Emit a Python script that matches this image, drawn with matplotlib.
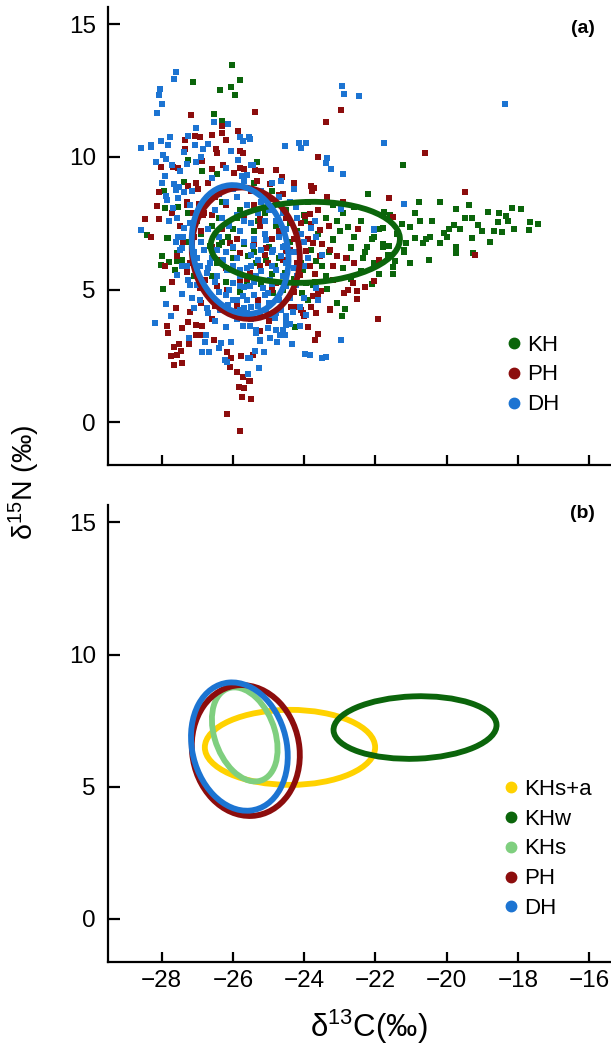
import numpy as np
import matplotlib
matplotlib.use("Agg")
import matplotlib.pyplot as plt
from matplotlib.patches import Ellipse
from matplotlib.lines import Line2D

plt.rcParams['font.family'] = ['Liberation Sans', 'DejaVu Sans']
plt.rcParams['mathtext.default'] = 'regular'

# ---- scatter data (d13C, d15N) ----
kh_pts = [
    (-26.04, 13.46), (-25.81, 12.88), (-26.05, 12.63), (-25.94, 12.35), (-26.36, 12.51), (-27.13, 12.83),
    (-26.53, 11.62), (-26.31, 11.34), (-26.71, 10.49), (-27.27, 9.89), (-26.87, 9.48), (-27.38, 9.06),
    (-26.45, 9.36), (-27.94, 8.70), (-27.53, 8.10), (-27.91, 8.07), (-28.41, 7.06), (-27.84, 6.93),
    (-27.25, 7.88), (-27.98, 6.25), (-27.97, 5.03), (-28.02, 5.94), (-27.63, 5.75), (-27.58, 6.06),
    (-25.32, 9.80), (-23.07, 7.57), (-22.77, 7.35), (-23.98, 7.57), (-23.20, 6.90), (-22.03, 6.97),
    (-22.68, 6.59), (-22.24, 6.59), (-23.08, 4.49), (-22.86, 4.28), (-22.93, 4.02), (-24.27, 3.58),
    (-24.06, 4.89), (-23.36, 5.02), (-23.75, 5.18), (-22.68, 6.56), (-22.35, 6.19),
    (-21.23, 9.71), (-20.79, 8.30), (-19.73, 8.04), (-19.38, 8.19), (-18.84, 7.91), (-18.53, 7.87),
    (-18.16, 8.07), (-17.91, 8.04), (-17.44, 7.48), (-17.67, 7.56), (-17.70, 7.26), (-18.10, 7.30),
    (-18.29, 7.57), (-18.33, 7.79), (-18.55, 7.56), (-18.66, 7.19), (-18.45, 7.16), (-18.79, 6.79),
    (-19.28, 7.70), (-19.13, 7.45), (-19.29, 6.93), (-19.26, 6.38), (-19.74, 6.60), (-19.73, 6.38),
    (-19.63, 7.28), (-19.81, 7.43), (-19.95, 7.28), (-20.09, 7.13), (-19.99, 7.00), (-20.20, 6.75),
    (-20.42, 7.60), (-20.74, 7.58), (-20.47, 7.00), (-20.57, 6.90), (-20.67, 6.75), (-20.88, 6.95),
    (-21.02, 6.00), (-20.51, 6.13), (-21.25, 7.46), (-21.04, 7.35), (-21.14, 6.75), (-21.21, 6.40),
    (-21.46, 6.06), (-21.51, 5.84), (-21.50, 5.60), (-21.63, 6.63), (-21.79, 6.73), (-21.80, 7.32),
    (-21.65, 6.31), (-22.03, 6.00), (-21.77, 7.92),
    (-28.42, 7.04), (-27.83, 6.94), (-27.79, 6.04), (-27.56, 6.38), (-27.44, 6.12), (-26.39, 6.69),
    (-26.13, 7.00), (-25.99, 6.56), (-25.57, 6.25), (-25.34, 6.00), (-25.06, 6.12), (-24.83, 5.87),
    (-24.55, 5.62), (-24.03, 5.75), (-23.94, 5.24), (-23.66, 6.06), (-23.19, 6.88), (-25.62, 5.25),
    (-24.87, 4.87), (-26.46, 6.00), (-26.65, 6.63),
    (-26.30, 8.30), (-25.80, 8.00), (-25.10, 7.90), (-24.50, 8.00), (-24.00, 7.80), (-23.40, 7.70),
    (-22.90, 7.90), (-22.40, 7.60), (-26.60, 7.40), (-26.00, 7.30), (-25.40, 7.20), (-24.80, 7.40),
    (-24.20, 7.20), (-23.60, 7.10), (-23.00, 7.20), (-22.60, 7.00), (-21.90, 7.30), (-26.30, 6.80),
    (-25.70, 6.70), (-25.00, 6.60), (-24.40, 6.80), (-23.80, 6.50), (-23.30, 6.40), (-22.80, 6.20),
    (-22.30, 6.40), (-21.80, 6.60), (-26.00, 6.20), (-25.40, 6.40), (-24.70, 6.20), (-24.10, 6.00),
    (-23.50, 5.90), (-22.90, 5.80), (-22.40, 5.70), (-21.90, 5.60), (-25.60, 5.80), (-24.90, 5.60),
    (-24.30, 5.40), (-23.70, 5.30), (-27.00, 7.60), (-26.80, 8.20), (-25.40, 9.00), (-24.90, 8.70),
    (-22.20, 8.60), (-21.60, 7.80), (-22.10, 6.90),
    (-26.60, 5.50), (-26.20, 5.30), (-25.80, 4.90), (-25.20, 5.20), (-24.60, 5.00), (-23.90, 4.60),
    (-23.40, 5.50), (-22.70, 5.40), (-22.10, 5.20), (-27.10, 5.50), (-27.30, 6.80), (-26.90, 7.10),
    (-26.40, 7.70), (-25.90, 7.70), (-25.30, 7.60), (-24.40, 7.50), (-23.90, 8.30), (-23.20, 8.20),
    (-22.60, 8.10), (-21.40, 7.10), (-21.20, 6.50), (-20.90, 7.90), (-20.20, 8.30), (-19.50, 7.70),
    (-19.00, 7.20),
]

ph_pts = [
    (-27.17, 11.57), (-27.07, 10.78), (-26.92, 10.75), (-26.60, 10.84), (-27.34, 10.64), (-26.30, 11.17),
    (-26.30, 10.90), (-25.87, 10.97), (-26.19, 10.65), (-27.35, 10.30), (-26.48, 10.31), (-26.46, 10.15),
    (-25.80, 10.22), (-25.73, 10.14), (-28.02, 9.63), (-27.69, 9.62), (-27.55, 9.58), (-26.88, 9.83),
    (-26.58, 9.53), (-26.27, 9.70), (-25.96, 9.38), (-25.70, 9.56), (-27.27, 8.89), (-27.04, 9.03),
    (-26.99, 8.80), (-26.69, 9.02), (-28.08, 8.66), (-28.12, 8.14), (-28.47, 7.66), (-28.07, 7.67),
    (-27.30, 8.30), (-26.95, 8.24), (-26.83, 7.82), (-27.11, 7.88), (-27.72, 7.88),
    (-27.84, 3.63), (-27.83, 3.36), (-27.60, 4.30), (-27.44, 3.57), (-27.20, 4.17), (-27.04, 3.68),
    (-26.86, 3.61), (-27.03, 3.29), (-27.23, 2.94), (-27.51, 2.94), (-27.65, 2.85), (-27.47, 2.70),
    (-27.58, 2.54), (-27.75, 2.50), (-27.44, 2.25), (-27.66, 2.14), (-26.54, 3.11), (-26.18, 2.64),
    (-26.06, 2.44), (-26.08, 2.07), (-25.78, 2.50), (-25.89, 1.91), (-25.73, 1.70), (-25.56, 1.57),
    (-25.84, 1.32), (-25.69, 1.28), (-25.76, 0.97), (-25.50, 0.88), (-26.18, 0.31), (-25.81, -0.32),
    (-26.91, 3.29), (-27.25, 3.77),
    (-25.38, 11.71), (-22.98, 11.75), (-23.40, 11.31), (-23.61, 10.01), (-25.39, 9.52), (-25.20, 9.48),
    (-25.32, 9.08), (-24.95, 8.98), (-24.62, 9.23), (-23.82, 8.92), (-23.73, 8.83), (-23.77, 8.72),
    (-23.35, 8.48), (-24.71, 8.58), (-23.85, 7.85), (-23.97, 7.78), (-23.57, 7.23), (-23.80, 7.48),
    (-25.25, 7.67), (-25.24, 7.38), (-25.11, 7.10), (-23.51, 6.72),
    (-23.08, 6.25), (-23.19, 5.87), (-22.82, 6.19), (-22.59, 6.00), (-22.03, 5.33), (-22.51, 4.95),
    (-22.51, 4.64), (-22.87, 4.89), (-23.29, 4.26), (-23.61, 4.83), (-23.80, 4.33), (-24.03, 4.10),
    (-24.37, 4.33), (-23.60, 3.32), (-23.70, 3.10), (-21.93, 3.90), (-25.23, 3.45), (-25.43, 2.54),
    (-25.51, 1.57), (-25.49, 0.89), (-23.96, 6.44), (-25.06, 6.56), (-24.50, 6.44),
    (-20.62, 10.15), (-19.49, 8.67), (-21.61, 8.44), (-21.51, 7.74), (-19.20, 6.29),
    (-27.58, 6.25), (-27.28, 5.65), (-27.21, 6.00), (-26.93, 5.06), (-26.79, 5.37), (-26.46, 5.12),
    (-26.18, 4.99), (-25.81, 5.37), (-25.53, 5.62), (-25.25, 5.87), (-25.01, 6.00), (-24.78, 5.24),
    (-24.13, 5.56), (-23.85, 5.87), (-23.57, 6.25), (-23.28, 6.50), (-23.75, 6.75), (-24.02, 3.99),
    (-24.10, 4.24), (-24.27, 4.36), (-23.66, 4.11), (-23.28, 4.24), (-23.52, 4.93), (-23.19, 5.37),
    (-22.77, 4.99), (-22.63, 5.24), (-25.81, 6.38), (-26.09, 6.75), (-26.37, 6.12), (-23.75, 4.74),
    (-26.50, 8.50), (-26.00, 8.90), (-25.50, 8.70), (-25.00, 8.40), (-24.60, 8.60), (-24.30, 9.00),
    (-26.80, 7.90), (-25.70, 7.80), (-25.20, 7.60), (-24.70, 7.20), (-26.30, 7.30), (-25.90, 6.90),
    (-25.40, 6.70), (-24.90, 6.90), (-24.40, 6.50), (-26.60, 6.60), (-25.10, 6.30), (-24.60, 6.10),
    (-23.90, 6.90), (-24.10, 7.50), (-26.90, 7.20), (-27.30, 8.20), (-27.50, 7.40), (-25.80, 9.60),
    (-24.80, 9.50), (-26.20, 5.80), (-25.60, 5.40), (-24.20, 6.00), (-23.60, 8.00), (-23.70, 5.60),
    (-27.40, 6.80), (-27.10, 7.00), (-26.60, 7.80), (-26.20, 8.20), (-25.40, 8.20), (-24.50, 7.70),
    (-24.30, 6.90), (-24.50, 5.50), (-24.90, 5.00), (-25.30, 4.60), (-25.90, 4.40), (-26.50, 4.40),
    (-26.90, 4.50), (-26.60, 3.90), (-24.30, 4.90), (-23.90, 3.60), (-25.00, 3.80), (-27.90, 5.90),
    (-28.30, 7.00), (-27.70, 5.30), (-23.30, 7.40), (-22.90, 8.30), (-22.50, 7.30), (-21.90, 6.10),
    (-22.30, 5.10),
]

dh_pts = [
    (-27.60, 13.21), (-27.65, 12.94), (-28.05, 12.56), (-28.09, 12.35), (-27.98, 12.00), (-28.12, 11.66),
    (-27.04, 11.09), (-26.53, 11.31), (-26.13, 11.24), (-28.58, 10.33), (-28.31, 10.46), (-28.30, 10.36),
    (-28.03, 10.61), (-27.82, 10.46), (-27.78, 10.74), (-27.25, 10.80), (-27.07, 10.46), (-26.71, 10.49),
    (-27.37, 10.17), (-26.83, 10.30), (-28.17, 9.81), (-27.96, 10.09), (-27.89, 9.94), (-27.70, 9.71),
    (-27.49, 9.48), (-27.29, 9.75), (-27.04, 9.80), (-27.91, 9.27), (-27.65, 8.97), (-27.52, 8.85),
    (-27.59, 8.74), (-27.37, 8.66), (-27.88, 8.51), (-27.86, 8.36), (-27.53, 8.45), (-27.16, 8.70),
    (-25.81, 10.74), (-25.71, 10.59), (-25.55, 10.74), (-26.06, 10.21), (-25.85, 9.90), (-25.43, 9.71),
    (-25.76, 9.27), (-25.69, 9.08), (-28.58, 7.26), (-27.56, 7.70), (-27.69, 8.07), (-27.37, 7.32),
    (-27.53, 6.97), (-27.44, 6.56),
    (-28.20, 3.73), (-27.88, 4.45), (-27.74, 4.01), (-27.44, 4.83), (-27.21, 5.18), (-27.09, 4.30),
    (-27.23, 3.17), (-26.78, 3.04), (-26.88, 2.63), (-26.68, 2.64), (-26.39, 2.79), (-26.34, 2.97),
    (-26.06, 3.04), (-26.21, 2.35), (-26.18, 2.26), (-25.59, 2.44), (-25.57, 1.83), (-26.77, 3.27),
    (-26.51, 3.80), (-26.69, 4.11), (-27.58, 5.56),
    (-22.94, 12.68), (-22.89, 12.39), (-22.46, 12.30), (-24.54, 10.41), (-24.15, 10.51), (-24.10, 10.33),
    (-23.94, 10.54), (-25.53, 10.68), (-23.37, 9.97), (-23.40, 9.77), (-23.24, 9.55), (-22.91, 9.36),
    (-24.66, 9.11), (-25.48, 9.71), (-22.98, 8.05), (-24.24, 8.10), (-23.80, 7.32), (-22.04, 7.28),
    (-23.67, 6.99),
    (-22.97, 3.11), (-23.99, 2.58), (-23.84, 2.54), (-23.51, 2.41), (-23.38, 2.46), (-24.33, 2.94),
    (-24.76, 3.02), (-25.25, 3.08), (-25.13, 2.64), (-25.39, 2.69), (-25.27, 2.04), (-24.50, 3.99),
    (-24.52, 3.67), (-24.59, 3.48), (-24.69, 3.29), (-24.97, 4.05), (-25.34, 3.36), (-25.53, 2.41),
    (-18.36, 11.99), (-21.75, 10.53), (-21.20, 8.21), (-22.03, 7.26),
    (-27.49, 6.50), (-27.44, 5.87), (-27.16, 6.75), (-27.02, 6.19), (-26.65, 6.00), (-26.74, 5.62),
    (-26.46, 5.50), (-26.18, 5.75), (-25.99, 5.24), (-25.81, 5.75), (-25.71, 4.74), (-25.53, 5.12),
    (-25.34, 5.50), (-25.15, 5.06), (-24.97, 5.37), (-24.78, 5.75), (-24.64, 6.25), (-24.55, 6.63),
    (-24.87, 6.50), (-25.06, 6.88), (-25.43, 6.63), (-25.99, 4.62), (-25.81, 4.24), (-25.62, 4.11),
    (-25.48, 4.36), (-25.25, 4.05), (-25.06, 4.24), (-24.83, 3.92), (-24.64, 4.24), (-24.50, 3.86),
    (-24.31, 4.17), (-24.41, 4.68), (-24.13, 4.36), (-23.94, 4.05), (-25.71, 3.61), (-25.53, 3.61),
    (-25.34, 3.48), (-25.01, 3.55), (-24.78, 3.48), (-24.13, 3.61), (-24.55, 3.29), (-24.97, 3.17),
    (-25.25, 3.10), (-26.13, 4.43), (-26.37, 4.24), (-26.93, 4.61), (-26.74, 4.30), (-27.16, 4.68),
    (-26.93, 5.87), (-26.46, 6.50), (-26.27, 6.12), (-27.25, 5.37), (-27.02, 5.18), (-25.01, 4.87),
    (-25.81, 5.12), (-23.66, 5.06), (-24.50, 5.12), (-24.22, 5.18),
    (-26.50, 8.00), (-26.20, 8.30), (-25.90, 8.50), (-25.60, 8.20), (-25.30, 7.90), (-25.00, 8.00),
    (-24.80, 7.60), (-25.50, 7.50), (-25.80, 7.20), (-26.10, 7.40), (-26.40, 7.00), (-26.70, 7.30),
    (-26.90, 6.80), (-25.70, 6.80), (-25.40, 6.90), (-25.10, 7.10), (-24.70, 7.00), (-24.60, 6.60),
    (-24.90, 6.40), (-25.20, 6.50), (-25.50, 6.30), (-25.90, 6.20), (-26.20, 6.40), (-26.60, 6.20),
    (-26.00, 5.90), (-25.60, 5.80), (-25.30, 6.10), (-24.90, 5.90), (-24.50, 7.30), (-24.40, 8.30),
    (-24.20, 7.70), (-24.00, 6.80), (-23.90, 6.20), (-24.30, 5.80), (-25.90, 7.80), (-26.30, 7.70),
    (-27.00, 7.90), (-27.20, 7.50), (-27.40, 7.00), (-27.10, 6.40), (-26.00, 8.80), (-25.20, 8.70),
    (-24.90, 9.00), (-25.60, 9.30), (-26.60, 8.60), (-24.50, 6.00), (-25.70, 4.30), (-25.90, 4.60),
    (-25.30, 4.40), (-25.40, 4.80),
    (-26.80, 8.30), (-26.40, 8.60), (-25.20, 8.30), (-24.70, 8.50), (-26.70, 5.80), (-26.90, 5.30),
    (-26.40, 4.90), (-26.10, 5.00), (-25.80, 5.50), (-25.50, 5.90), (-25.20, 5.70), (-24.90, 5.20),
    (-24.70, 4.60), (-25.00, 4.50), (-25.60, 4.60), (-26.20, 4.80), (-26.50, 5.30), (-24.60, 5.50),
    (-24.20, 5.50), (-24.00, 5.90), (-24.30, 6.40), (-24.10, 7.10), (-24.60, 7.90), (-25.10, 7.60),
    (-25.70, 7.60), (-26.00, 6.60), (-26.30, 6.00), (-26.80, 6.50), (-27.00, 5.70), (-25.40, 5.30),
    (-25.70, 5.10), (-25.10, 4.80), (-24.80, 4.10), (-24.40, 3.70), (-25.50, 3.90), (-25.90, 3.90),
    (-26.20, 3.60), (-27.30, 5.90), (-27.60, 6.80), (-27.80, 7.60), (-27.20, 8.20), (-26.60, 9.20),
    (-26.20, 9.60), (-26.90, 10.00), (-28.00, 9.00), (-24.30, 8.80), (-23.50, 6.30), (-23.70, 7.60),
    (-24.00, 4.70), (-23.60, 4.60),
]

# ---- standard ellipses: centre x, centre y, width, height, angle (deg) ----
ell_a_names = ['KH', 'PH', 'DH']
ell_a_cx = [-23.97, -25.64, -25.80]
ell_a_cy = [6.78, 6.37, 6.51]
ell_a_w = [5.32, 3.02, 2.67]
ell_a_h = [3.04, 4.96, 4.88]
ell_a_ang = [4, 4, 7]

ell_b_names = ['KHs+a', 'KHw', 'KHs', 'PH', 'DH']
ell_b_cx = [-24.40, -20.89, -25.67, -25.64, -25.82]
ell_b_cy = [6.49, 7.24, 6.98, 6.37, 6.52]
ell_b_w = [4.78, 4.58, 1.72, 3.02, 2.67]
ell_b_h = [2.84, 2.36, 3.62, 4.96, 4.88]
ell_b_ang = [0, 3, 12, 4, 7]

colors = {'KH': '#0b650b', 'KHw': '#0b650b', 'PH': '#8c0d0d', 'DH': '#1c74d2',
          'KHs': '#7fcf7f', 'KHs+a': '#ffd200'}

fig = plt.figure(figsize=(6.11, 10.45), dpi=100)
ax_a = fig.add_axes([0.1772, 0.5548, 0.8228, 0.4385])
ax_b = fig.add_axes([0.1772, 0.0797, 0.8228, 0.4368])

# panel (a) scatter
for name, pts in [('KH', kh_pts), ('PH', ph_pts), ('DH', dh_pts)]:
    arr = np.array(pts)
    ax_a.scatter(arr[:, 0], arr[:, 1], s=14, marker='s', color=colors[name], linewidths=0, zorder=2)

order_a = [1, 0, 2]
for i in order_a:
    e = Ellipse((ell_a_cx[i], ell_a_cy[i]), ell_a_w[i], ell_a_h[i], angle=ell_a_ang[i],
                fill=False, edgecolor=colors[ell_a_names[i]], linewidth=4.2, zorder=3)
    ax_a.add_patch(e)

for i in range(len(ell_b_names)):
    e = Ellipse((ell_b_cx[i], ell_b_cy[i]), ell_b_w[i], ell_b_h[i], angle=ell_b_ang[i],
                fill=False, edgecolor=colors[ell_b_names[i]], linewidth=4.2, zorder=3)
    ax_b.add_patch(e)


def style_axes(ax, show_xlabels):
    ax.set_xlim(-29.5, -15.39)
    ax.set_ylim(-1.62, 15.65)
    ax.set_xticks([-28, -26, -24, -22, -20, -18, -16])
    ax.set_yticks([0, 5, 10, 15])
    ax.set_xticklabels(['\u221228', '\u221226', '\u221224', '\u221222', '\u221220', '\u221218', '\u221216'])
    for s in ['top', 'right']:
        ax.spines[s].set_visible(False)
    for s in ['left', 'bottom']:
        ax.spines[s].set_linewidth(1.6)
    ax.tick_params(axis='y', direction='in', length=8.5, width=1.6, labelsize=17.5, pad=9)
    ax.tick_params(axis='x', direction='in', length=7, width=1.6, labelsize=17.5, pad=6,
                   labelbottom=show_xlabels)


style_axes(ax_a, False)
style_axes(ax_b, True)

ax_a.text(0.944, 0.953, '(a)', transform=ax_a.transAxes, ha='center', va='center',
          fontsize=14, fontweight='bold')
ax_b.text(0.944, 0.981, '(b)', transform=ax_b.transAxes, ha='center', va='center',
          fontsize=14, fontweight='bold')

# legends with round markers
def make_legend(ax, names, anchor):
    handles = [Line2D([], [], marker='o', linestyle='none', markersize=7.5,
                      markerfacecolor=colors[n], markeredgecolor=colors[n]) for n in names]
    ax.legend(handles, names, loc='center left', bbox_to_anchor=anchor, frameon=False,
              fontsize=16, handlelength=0.5, handletextpad=0.35, labelspacing=0.4,
              borderpad=0, borderaxespad=0)


make_legend(ax_a, ['KH', 'PH', 'DH'], (0.796, 0.197))
make_legend(ax_b, ell_b_names, (0.790, 0.247))

fig.text(369 / 611, 1 - 1027 / 1045, '\u03b4$^{13}$C(\u2030)', ha='center', va='center', fontsize=22.5)
fig.text(24 / 611, 1 - 482 / 1045, '\u03b4$^{15}$N (\u2030)', ha='center', va='center',
         fontsize=20.5, rotation=90)

fig.savefig('out.png', dpi=100)
